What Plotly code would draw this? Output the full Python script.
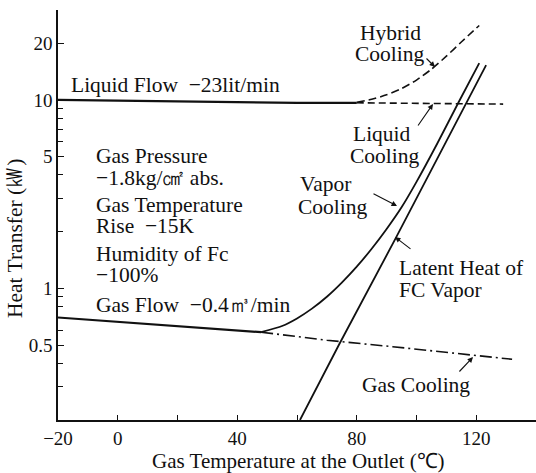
import plotly.graph_objects as go
import math

# ---------------- data ----------------
liquid_flow_x = [-20, 0, 20, 40, 60, 80]
liquid_flow_y = [10.0, 9.9, 9.8, 9.7, 9.65, 9.65]

liquid_cooling_x = [80, 100, 129]
liquid_cooling_y = [9.65, 9.6, 9.5]

hybrid_x = [80, 85, 90, 95, 100, 105, 110, 115, 121]
hybrid_y = [9.70, 10.07, 10.64, 11.48, 12.74, 14.55, 17.06, 20.28, 24.83]

gas_flow_x = [-20, 0, 20, 40, 48]
gas_flow_y = [0.70, 0.665, 0.63, 0.60, 0.585]

gas_cooling_x = [48, 70, 92, 132]
gas_cooling_y = [0.585, 0.53, 0.49, 0.42]

vapor_x = [48, 55, 60, 65, 70, 75, 80, 85, 90, 95, 100, 107, 114, 121]
vapor_y = [0.585, 0.631, 0.692, 0.780, 0.902, 1.072, 1.303, 1.622, 2.065,
           2.692, 3.673, 5.888, 9.66, 15.67]

latent_x = [61, 74, 93, 123.3]
latent_y = [0.2, 0.5, 1.84, 15.3]

x_tick_vals = [-20, 0, 40, 80, 120]
x_tick_text = ["\u221220", "0", "40", "80", "120"]
y_tick_vals = [0.5, 1, 5, 10, 20]
y_tick_text = ["0.5", "1", "5", "10", "20"]
y_minor_vals = [0.3, 0.4, 0.6, 0.7, 0.8, 0.9, 2, 3, 4, 6, 7, 8, 9, 30]

# ---------------- layout geometry ----------------
W, H = 536, 473
ML, MR, MT, MB = 58, 0, 10, 53
PW, PH = W - ML - MR, H - MT - MB

def px(x):
    return (x - ML) / PW

def py(y):
    return (H - MB - y) / PH

FONT = "Liberation Serif, Times New Roman, serif"
BLACK = "#111111"
TS = 21.5

fig = go.Figure()

def line(x, y, dash="solid", width=2, shape="linear"):
    ln = dict(color=BLACK, width=width, dash=dash, shape=shape)
    if shape == "spline":
        ln["smoothing"] = 0.6
    fig.add_trace(go.Scatter(x=x, y=y, mode="lines", line=ln,
                             showlegend=False, hoverinfo="skip"))

line(liquid_flow_x, liquid_flow_y, width=2.2)
line(liquid_cooling_x, liquid_cooling_y, dash="7px,4px", width=1.6)
line(hybrid_x, hybrid_y, dash="8px,4px", width=1.6, shape="spline")
line(gas_flow_x, gas_flow_y, width=2.2)
line(gas_cooling_x, gas_cooling_y, dash="12px,4px,2px,4px", width=1.6)
line(vapor_x, vapor_y, width=1.8, shape="spline")
line(latent_x, latent_y, width=1.8)

annotations = []

def text(t, x, y, xanchor="left", size=TS):
    annotations.append(dict(text=t, x=px(x), y=py(y), xref="paper", yref="paper",
                            xanchor=xanchor, yanchor="middle", showarrow=False,
                            borderpad=0,
                            font=dict(family=FONT, size=size, color=BLACK)))

def arrow(tx, ty, hx, hy):
    annotations.append(dict(text="", x=px(hx), y=py(hy), xref="paper", yref="paper",
                            ax=tx - hx, ay=ty - hy, axref="pixel", ayref="pixel",
                            showarrow=True, arrowhead=2, arrowsize=1.0,
                            arrowwidth=1.1, arrowcolor=BLACK))

text("Liquid Flow  \u221223lit/min", 70, 85)
text("Hybrid", 390, 33, "center")
text("Cooling", 390, 54, "center")
text("Liquid", 382, 134, "center")
text("Cooling", 385, 156, "center")
text("Vapor", 299, 184)
text("Cooling", 297, 207)
text("Latent Heat of", 398, 268)
text("FC Vapor", 398, 290)
text("Gas Cooling", 416, 385, "center")
text("Gas Pressure", 95, 156)
text("\u22121.8kg/\u33a0 abs.", 95, 178)
text("Gas Temperature", 95, 205)
text("Rise  \u221215K", 95, 226)
text("Humidity of Fc", 95, 254)
text("\u2212100%", 95, 275)
text("Gas Flow  \u22120.4\u33a5/min", 95, 305)

arrow(425, 57, 435, 67)
arrow(417, 127, 433, 104)
arrow(372, 193, 397, 206)
arrow(412, 250, 395, 237)
arrow(458, 373, 473, 357)

# axis titles
annotations.append(dict(text="Gas Temperature at the Outlet (\u2103)", x=px(298), y=py(461),
                        xref="paper", yref="paper", xanchor="center", yanchor="middle",
                        showarrow=False, borderpad=0,
                        font=dict(family=FONT, size=21, color=BLACK)))
annotations.append(dict(text="Heat Transfer (\u33be)", x=px(15), y=py(239),
                        xref="paper", yref="paper", xanchor="center", yanchor="middle",
                        textangle=-90, showarrow=False,
                        font=dict(family=FONT, size=TS, color=BLACK)))

fig.update_layout(
    width=W, height=H,
    margin=dict(l=ML, r=MR, t=MT, b=MB, pad=0, autoexpand=False),
    paper_bgcolor="white", plot_bgcolor="white",
    showlegend=False,
    annotations=annotations,
    font=dict(family=FONT, size=TS, color=BLACK),
)

fig.update_xaxes(
    range=[-20, 140], showgrid=False, zeroline=False, automargin=False,
    showline=True, linecolor=BLACK, linewidth=1.5,
    tickmode="array", tickvals=x_tick_vals, ticktext=x_tick_text,
    ticks="inside", ticklen=5, tickcolor=BLACK, tickwidth=1.2,
    minor=dict(dtick=20, tick0=0, ticks="inside", ticklen=5, tickcolor=BLACK, tickwidth=1.2),
    tickfont=dict(family=FONT, size=19, color=BLACK),
)
fig.update_yaxes(
    type="log", range=[math.log10(0.2), math.log10(30)],
    showgrid=False, zeroline=False, automargin=False,
    showline=True, linecolor=BLACK, linewidth=1.5,
    tickmode="array", tickvals=y_tick_vals, ticktext=y_tick_text,
    ticks="inside", ticklen=6, tickcolor=BLACK, tickwidth=1.2,
    minor=dict(tickmode="array", tickvals=y_minor_vals, ticks="inside",
               ticklen=5, tickcolor=BLACK, tickwidth=1.2),
    tickfont=dict(family=FONT, size=19, color=BLACK),
)

fig.write_html("out.html", config={"displayModeBar": False},
               post_script="document.body.style.margin='0px';")
